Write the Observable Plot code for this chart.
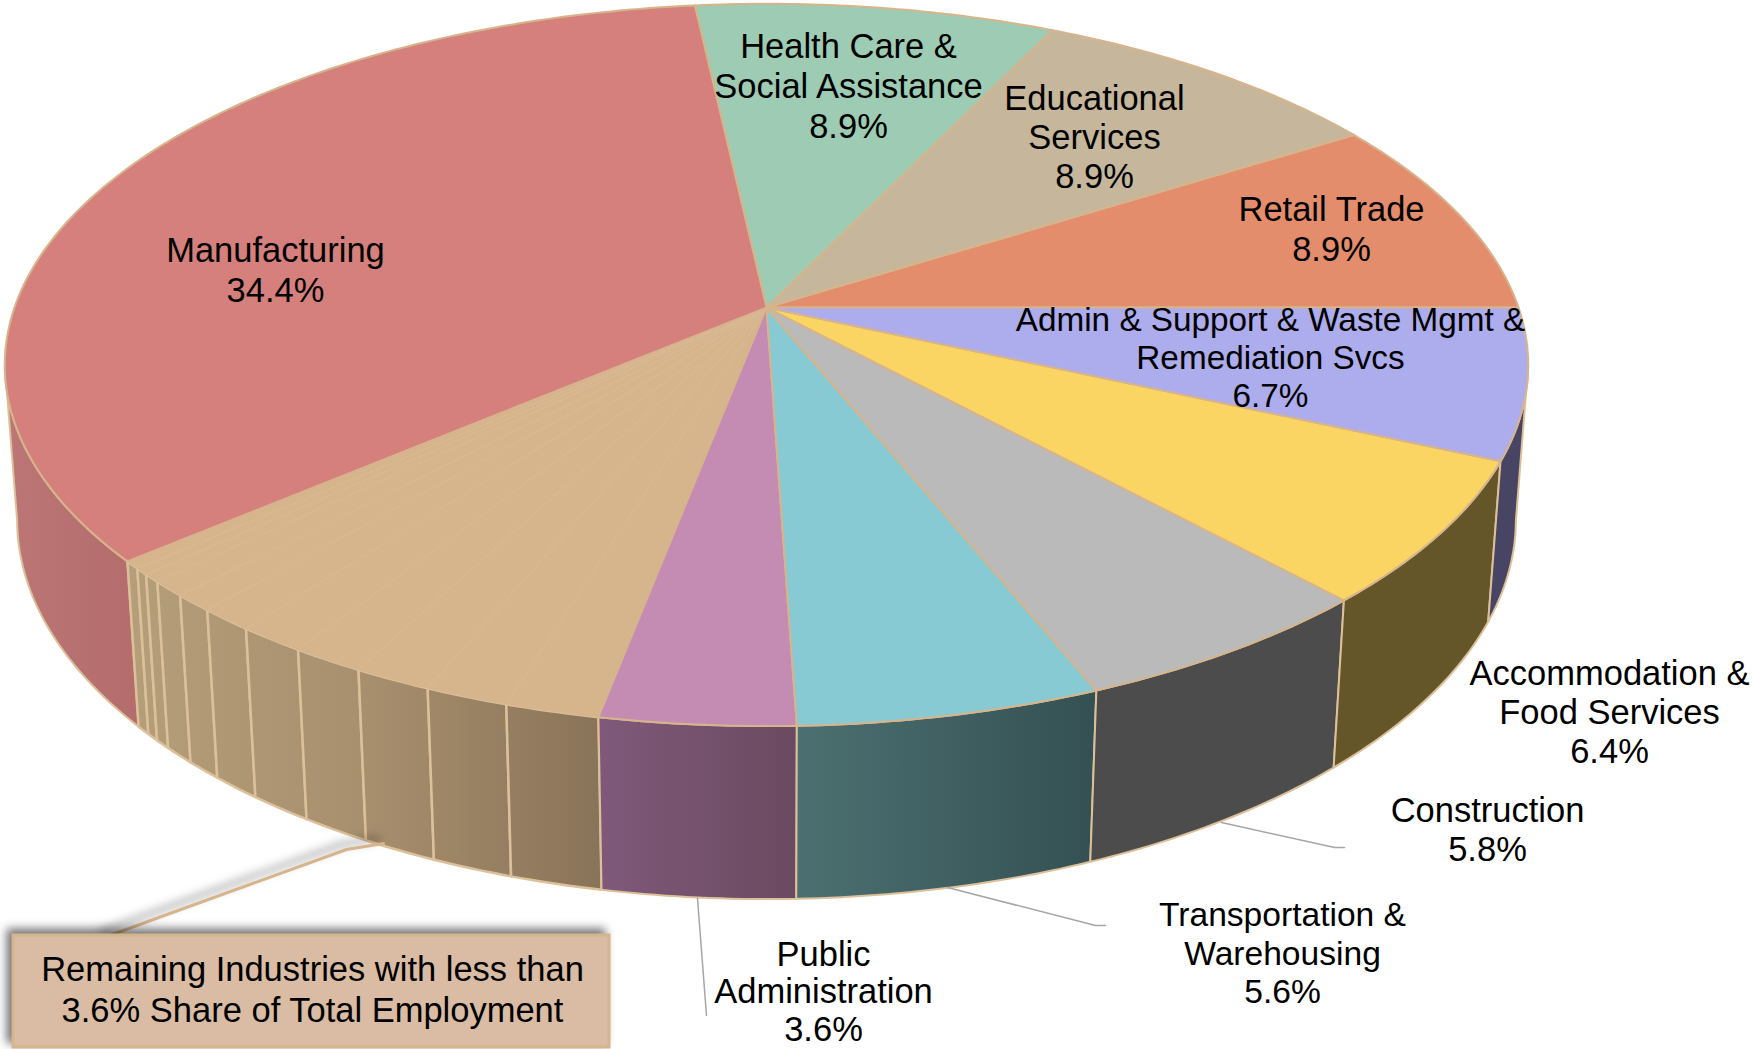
<!DOCTYPE html>
<html>
<head>
<meta charset="utf-8">
<title>Employment share by industry</title>
<script src="https://cdn.jsdelivr.net/npm/d3@7"></script>
<script src="https://cdn.jsdelivr.net/npm/@observablehq/plot@0.6"></script>
<style>
html,body{margin:0;padding:0;background:#fff}
svg{display:block}
</style>
</head>
<body>
<div id="chart"></div>
<script>
// ---- data: employment share (%), going round the disc from 3 o'clock
const industries = ["Retail Trade","Educational Services","Health Care & Social Assistance","Manufacturing","Public Administration","Transportation & Warehousing","Construction","Accommodation & Food Services","Admin & Support & Waste Mgmt & Remediation Svcs"];
const leadShares = [8.92, 8.92, 8.92, 34.44];
const remainingShares = [0.34,0.29,0.36,0.69,0.77,1.02,1.26,1.35,1.44,1.54,1.72];
const tailShares = [3.56, 5.56, 5.76, 6.44, 6.7];

const topColors  = ["#e38d6d","#c6b79c","#9ecbb3","#d6807d"];
const tailColors = ["#c58cb3","#88cad3","#bababa","#fbd563","#adaced"];
const remainingColor = "#d6b48c";
const edgeColor = "#d6b48c";
const dividerColor = "#dcc09a";
const wallFills = ["none","none","none","url(#gManu)"];
const tailWallFills = ["url(#gPub)","url(#gTrans)","#4c4c4c","#65562a","#474563"];

// ---- text
const baseSize = 34.5;
const labelLines = [
  {lines:["Health Care &","Social Assistance"], share:2, x:848, y:46, gap:40, fs:baseSize},
  {lines:["Educational","Services"], share:1, x:1094, y:98, gap:39, fs:baseSize},
  {lines:["Retail Trade"], share:0, x:1331, y:209, gap:40, fs:baseSize},
  {lines:["Manufacturing"], share:3, x:275, y:250, gap:40, fs:baseSize},
  {lines:["Admin & Support & Waste Mgmt &","Remediation Svcs"], tail:4, x:1270, y:320, gap:38, fs:33.3},
  {lines:["Accommodation &","Food Services"], tail:3, x:1609, y:673, gap:39, fs:baseSize},
  {lines:["Construction"], tail:2, x:1487, y:810, gap:39, fs:baseSize},
  {lines:["Transportation &","Warehousing"], tail:1, x:1282, y:915, gap:38.5, fs:33.6},
  {lines:["Public","Administration"], tail:0, x:823, y:954, gap:37.5, fs:baseSize}
];
const calloutLines = ["Remaining Industries with less than","3.6% Share of Total Employment"];

// ---- layout of the tilted, perspective disc
const view = {cx:766, cy:307, A:752, B:352, k:0.159, D:155, m:0.016};
const project = (deg, z) => {
  const t = deg * Math.PI / 180, X = Math.cos(t), Y = Math.sin(t);
  const w = 1 - view.k * Y + view.m * z;
  return {x: view.cx + view.A * X / w, y: view.cy + (view.B * Y + view.D * z) / w};
};
const arc = (a0, a1, z) => {
  const n = Math.max(2, Math.ceil(Math.abs(a1 - a0) / 0.75));
  return d3.range(n + 1).map(i => project(a0 + (a1 - a0) * i / n, z));
};
// angles where the side wall turns out of sight (silhouette of the disc)
const tangent = Math.asin(view.k) * 180 / Math.PI;
const wallStart = -180 - tangent, wallEnd = -360 + tangent;

// build slices from the shares
let cum = 0;
const slices = [];
const add = (share, top, wall, kind) => {
  const a0 = -cum * 3.6; cum += share; const a1 = -cum * 3.6;
  slices.push({share, top, wall, kind, a0, a1});
};
leadShares.forEach((s,i) => add(s, topColors[i], wallFills[i], "lead"));
remainingShares.forEach(s => add(s, remainingColor, "url(#gRem)", "rem"));
tailShares.forEach((s,i) => add(s, tailColors[i], tailWallFills[i], "tail"));

const wallMarks = slices.filter(d => d.wall !== "none").map(d => {
  const a0 = Math.min(d.a0, wallStart), a1 = Math.max(d.a1, wallEnd);
  const pts = [...arc(a0, a1, 0), ...arc(a1, a0, 1)];
  pts.push(pts[0]);
  return Plot.line(pts, {x:"x", y:"y", fill:d.wall, stroke:dividerColor, strokeWidth: d.kind === "rem" ? 2.5 : 2, curve:"linear", strokeLinejoin:"round"});
});
const topMarks = slices.map(d => {
  const pts = [{x:view.cx,y:view.cy}, ...arc(d.a0, d.a1, 0), {x:view.cx,y:view.cy}];
  return Plot.line(pts, {x:"x", y:"y", fill:d.top, stroke: edgeColor, strokeWidth: d.kind === "rem" ? 0.4 : 2, curve:"linear", strokeLinejoin:"round"});
});

// labels: one row per printed line, the last row is the share read from the arrays
const rows = labelLines.flatMap(l => {
  const v = l.share !== undefined ? leadShares[l.share] : tailShares[l.tail];
  const txt = [...l.lines, v.toFixed(1) + "%"];
  return txt.map((t,i) => ({t, x:l.x, y:l.y + i * l.gap, fs:l.fs}));
});
const calloutRows = calloutLines.map((t,i) => ({t, x:312, y:969 + i * 41, fs:baseSize}));

// leader lines
const leaders = [
  [{x:697,y:898},{x:706,y:1015}],
  [{x:947,y:887},{x:1095,y:925},{x:1105,y:925}],
  [{x:1221,y:822},{x:1334,y:847},{x:1344,y:847}]
];
const calloutLeader = [{x:106,y:936},{x:346,y:849},{x:383,y:843}];
const calloutBox = [{x1:13,x2:609,y1:935,y2:1047}];

const defs = () => {
  const s = d3.create("svg:defs");
  const grad = (id, stops, attrs = {}) => {
    const g = s.append("linearGradient").attr("id", id);
    Object.entries(attrs).forEach(([k,v]) => g.attr(k, v));
    stops.forEach((c,i) => g.append("stop").attr("offset", i / (stops.length - 1)).attr("stop-color", c));
  };
  grad("gManu", ["#bc7675","#b46c6d"]);
  grad("gRem", ["#b59e7a","#a88f6e","#8a7459"], {gradientUnits:"userSpaceOnUse", x1:126, x2:597, y1:0, y2:0});
  grad("gPub", ["#80597a","#6a4a60"]);
  grad("gTrans", ["#4c7071","#345053"]);
  return s.node();
};
const shadow = (index, scales, values, dims, context, next) => {
  const g = next(index, scales, values, dims, context);
  g.style.filter = "drop-shadow(-5px -5px 5px rgba(0,0,0,0.55))";
  return g;
};

const chart = Plot.plot({
  width:1752, height:1049, margin:0,
  x:{axis:null, domain:[0,1752], range:[0,1752]},
  y:{axis:null, domain:[0,1049], range:[0,1049]},
  style:{background:"#fff", fontFamily:"'Liberation Sans', Arial, sans-serif"},
  marks:[
    defs,
    ...wallMarks,
    ...topMarks,
    ...leaders.map(l => Plot.line(l, {x:"x", y:"y", stroke:"#a6a6a6", strokeWidth:1.5, curve:"linear"})),
    Plot.line(calloutLeader, {x:"x", y:"y", stroke:edgeColor, strokeWidth:3, curve:"linear", render:shadow}),
    Plot.rect(calloutBox, {x1:"x1", x2:"x2", y1:"y1", y2:"y2", fill:"#d9bca3", stroke:edgeColor, strokeWidth:3, render:shadow}),
    Plot.text(rows, {x:"x", y:"y", text:"t", fontSize:d => d.fs, fill:"#000", textAnchor:"middle", lineAnchor:"middle", fontFamily:"'Liberation Sans', Arial, sans-serif"}),
    Plot.text(calloutRows, {x:"x", y:"y", text:"t", fontSize:d => d.fs, fill:"#000", textAnchor:"middle", lineAnchor:"middle", fontFamily:"'Liberation Sans', Arial, sans-serif"})
  ]
});
document.getElementById("chart").appendChild(chart);
</script>
</body>
</html>
